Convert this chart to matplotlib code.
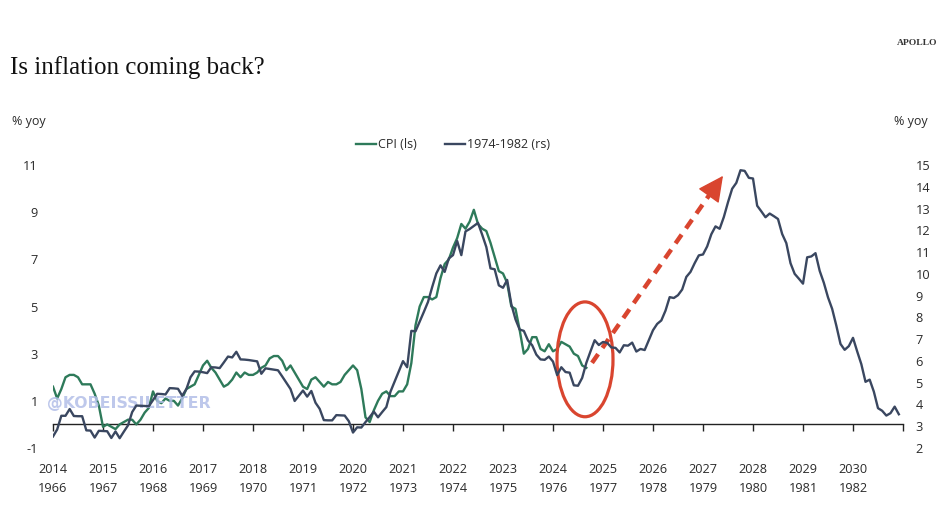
import numpy as np
import matplotlib
matplotlib.use("Agg")
import matplotlib.pyplot as plt
from matplotlib.patches import Ellipse
from matplotlib.lines import Line2D

# ---------------- data ----------------
# US CPI % yoy, Jan 2014 - Sep 2024 (left scale)
cpi = [1.6, 1.1, 1.5, 2.0, 2.1, 2.1, 2.0, 1.7, 1.7, 1.7, 1.3, 0.8,
       -0.1, 0.0, -0.1, -0.2, 0.0, 0.1, 0.2, 0.2, 0.0, 0.2, 0.5, 0.7,
       1.4, 1.0, 0.9, 1.1, 1.0, 1.0, 0.8, 1.1, 1.5, 1.6, 1.7, 2.1,
       2.5, 2.7, 2.4, 2.2, 1.9, 1.6, 1.7, 1.9, 2.2, 2.0, 2.2, 2.1,
       2.1, 2.2, 2.4, 2.5, 2.8, 2.9, 2.9, 2.7, 2.3, 2.5, 2.2, 1.9,
       1.6, 1.5, 1.9, 2.0, 1.8, 1.6, 1.8, 1.7, 1.7, 1.8, 2.1, 2.3,
       2.5, 2.3, 1.5, 0.3, 0.1, 0.6, 1.0, 1.3, 1.4, 1.2, 1.2, 1.4,
       1.4, 1.7, 2.6, 4.2, 5.0, 5.4, 5.4, 5.3, 5.4, 6.2, 6.8, 7.0,
       7.5, 7.9, 8.5, 8.3, 8.6, 9.1, 8.5, 8.3, 8.2, 7.7, 7.1, 6.5,
       6.4, 6.0, 5.0, 4.9, 4.0, 3.0, 3.2, 3.7, 3.7, 3.2, 3.1, 3.4,
       3.1, 3.2, 3.5, 3.4, 3.3, 3.0, 2.9, 2.5, 2.4]

# CPI % yoy 1966-1983, aligned so that it starts at Jan 2014 (right scale)
cpi_70s = [2.53, 2.85, 3.48, 3.48, 3.79, 3.47, 3.46,
           3.46, 2.81, 2.80, 2.48, 2.79, 2.78, 2.77, 2.46, 2.76, 2.45, 2.75, 3.04,
           3.65, 3.95, 3.94, 3.93, 3.92, 4.20, 4.49, 4.48, 4.46, 4.75, 4.74, 4.72,
           4.40, 4.70, 5.25, 5.52, 5.51, 5.48, 5.44, 5.71, 5.70, 5.67, 5.93, 6.20,
           6.16, 6.42, 6.07, 6.06, 6.04, 6.01, 5.98, 5.41, 5.66, 5.63, 5.60, 5.57,
           5.29, 5.00, 4.71, 4.16, 4.40, 4.64, 4.36, 4.62, 4.08, 3.80, 3.28, 3.27,
           3.27, 3.51, 3.50, 3.49, 3.23, 2.71, 2.95, 2.94, 3.19, 3.42, 3.67, 3.41,
           3.65, 3.88, 4.59, 5.06, 5.53, 5.99, 5.71, 7.38, 7.36, 7.80, 8.25, 8.71,
           9.39, 10.02, 10.39, 10.09, 10.71, 10.86, 11.51, 10.86, 11.95, 12.06, 12.20, 12.34,
           11.80, 11.23, 10.25, 10.21, 9.47, 9.36, 9.72, 8.60, 7.91, 7.44, 7.38, 6.94,
           6.72, 6.29, 6.07, 6.05, 6.20, 5.97, 5.35, 5.71, 5.49, 5.46, 4.88, 4.86,
           5.22, 5.91, 6.44, 6.95, 6.73, 6.87, 6.83, 6.62, 6.60, 6.39, 6.72, 6.70,
           6.84, 6.43, 6.55, 6.50, 6.96, 7.41, 7.70, 7.86, 8.31, 8.93, 8.89, 9.02,
           9.28, 9.86, 10.09, 10.49, 10.85, 10.89, 11.26, 11.82, 12.18, 12.07, 12.61, 13.29,
           13.91, 14.18, 14.76, 14.73, 14.41, 14.38, 13.13, 12.87, 12.60, 12.77, 12.65, 12.52,
           11.83, 11.41, 10.49, 10.00, 9.78, 9.55, 10.76, 10.80, 10.95, 10.14, 9.59, 8.92,
           8.39, 7.62, 6.78, 6.51, 6.68, 7.06, 6.44, 5.85, 5.04, 5.14, 4.59, 3.83,
           3.71, 3.49, 3.60, 3.90, 3.55]

years_top = [str(y) for y in range(2014, 2031)]
years_bottom = [str(y) for y in range(1966, 1983)]
left_ticks = [-1, 1, 3, 5, 7, 9, 11]
right_ticks = list(range(2, 16))

# ---------------- style ----------------
GREEN = "#2e7a5a"
NAVY = "#3a4760"
RED = "#d9452f"
TXT = "#2b2b2b"
SANS = ["Open Sans", "DejaVu Sans"]
SERIF = ["Liberation Serif", "DejaVu Serif"]

fig = plt.figure(figsize=(9.41, 5.12), dpi=100)
fig.patch.set_facecolor("white")
W, H = 941, 512
ax = fig.add_axes([53 / W, 64 / H, 850 / W, 283 / H])
ax2 = ax.twinx()

x_cpi = 2014 + np.arange(len(cpi)) / 12.0
x_70s = 2014 + np.arange(len(cpi_70s)) / 12.0

ax.plot(x_cpi, cpi, color=GREEN, lw=1.7, zorder=3)
ax2.plot(x_70s, cpi_70s, color=NAVY, lw=1.7, zorder=3)

ax.set_xlim(2014, 2031)
ax.set_ylim(-1, 11)
ax2.set_ylim(2, 15)

for s in ["top", "left", "right"]:
    ax.spines[s].set_visible(False)
for s in ["top", "left", "right", "bottom"]:
    ax2.spines[s].set_visible(False)
ax.spines["bottom"].set_position(("data", 0))
ax.spines["bottom"].set_color("#222222")
ax.spines["bottom"].set_linewidth(1.0)

ax.set_xticks(range(2014, 2032))
ax.set_xticklabels([f"{a}\n{b}" for a, b in zip(years_top, years_bottom)] + [""],
                   fontsize=9.2, color=TXT, family=SANS, linespacing=1.6)
ax.tick_params(axis="x", direction="out", length=5, width=1, color="#222222", pad=23)

ax.set_yticks(left_ticks)
ax.set_yticklabels([str(t) for t in left_ticks], fontsize=9.2, color=TXT, family=SANS)
ax.tick_params(axis="y", length=0, pad=11)

ax2.set_yticks(right_ticks)
ax2.set_yticklabels([str(t) for t in right_ticks], fontsize=9.2, color=TXT, family=SANS)
ax2.tick_params(axis="y", length=0, pad=9)

# legend
handles = [Line2D([], [], color=GREEN, lw=1.7), Line2D([], [], color=NAVY, lw=1.7)]
fig.legend(handles, ["CPI (ls)", "1974-1982 (rs)"], loc="center",
           bbox_to_anchor=(453 / W, 1 - 145 / H), ncol=2, frameon=False,
           handlelength=1.6, handletextpad=0.15, columnspacing=2.3,
           prop={"family": SANS, "size": 9}, labelcolor=TXT)

# texts
fig.text(10 / W, 1 - 68 / H, "Is inflation coming back?", fontsize=18,
         family=SERIF, color="#111111", va="center", ha="left")
fig.text(937 / W, 1 - 43 / H, "APOLLO", fontsize=6.8, family=SERIF,
         weight="bold", color="#333333", va="center", ha="right")
fig.text(12 / W, 1 - 122 / H, "% yoy", fontsize=9, family=SANS, color=TXT,
         va="center", ha="left")
fig.text(928 / W, 1 - 122 / H, "% yoy", fontsize=9, family=SANS, color=TXT,
         va="center", ha="right")

# watermark
ax.text(2013.88, 0.87, "@KOBEISSILETTER", fontsize=11.3, weight="bold",
        family=["DejaVu Sans"], color="#b3bfe8", alpha=0.85, va="center",
        ha="left", zorder=6)

# annotation: ellipse + dashed arrow
ell = Ellipse((2024.64, 2.76), width=1.12, height=4.87, fill=False,
              edgecolor=RED, lw=2.3, zorder=5)
ax.add_patch(ell)
ax.plot([2024.78, 2027.14], [2.61, 9.77], color=RED, lw=3.2,
        ls=(0, (2.4, 1.7)), solid_capstyle="butt", dash_capstyle="butt", zorder=5)
ax.annotate("", xy=(2027.40, 10.54), xytext=(2027.14, 9.77),
            arrowprops=dict(arrowstyle="-|>,head_length=0.9,head_width=0.45",
                            mutation_scale=18, color=RED, lw=1,
                            shrinkA=0, shrinkB=0), zorder=5)

fig.savefig("out.png", dpi=100, facecolor="white")
